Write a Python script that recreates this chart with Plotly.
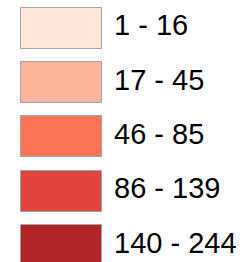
import plotly.graph_objects as go

labels = ["1 - 16", "17 - 45", "46 - 85", "86 - 139", "140 - 244"]
colors = ["#fee6dc", "#fcb49b", "#fc7557", "#e0423e", "#af252a"]
positions = [0, 1, 2, 3, 4]

fig = go.Figure()
fig.add_trace(go.Bar(
    y=positions, x=[81.5] * len(labels), base=[20.5] * len(labels),
    orientation="h", width=0.754,
    marker=dict(color=colors, line=dict(color="#a3a3a3", width=1)),
    hoverinfo="skip", showlegend=False,
))
fig.add_trace(go.Scatter(
    y=positions, x=[114] * len(labels), text=labels, mode="text",
    textposition="middle right",
    textfont=dict(family="Liberation Sans, Arial, sans-serif", size=29, color="#000000"),
    hoverinfo="skip", showlegend=False,
))
fig.update_layout(
    width=245, height=262, margin=dict(l=0, r=0, t=0, b=0),
    paper_bgcolor="white", plot_bgcolor="white",
    xaxis=dict(range=[0, 245], visible=False, fixedrange=True),
    yaxis=dict(range=[4.301, -0.515], visible=False, fixedrange=True),
    bargap=0,
)
fig.write_html(
    "out.html",
    config={"displayModeBar": False},
    post_script="document.body.style.margin='0';document.body.style.overflow='hidden';",
)
